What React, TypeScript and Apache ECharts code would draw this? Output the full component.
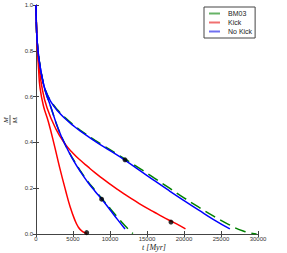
import React, { useEffect, useRef } from "react";
import * as echarts from "echarts";

// ---- data (t in Myr, M/Mi) ----
const noKickA_t = [0, 90, 270, 540, 900, 1300, 2000, 3000, 4000, 5000, 6000, 8000, 10000, 12000, 14000, 16000, 18000, 20000, 22000, 24000, 26200];
const noKickA_m = [1.0, 0.88, 0.8, 0.735, 0.672, 0.625, 0.578, 0.535, 0.502, 0.474, 0.449, 0.405, 0.364, 0.323, 0.278, 0.233, 0.189, 0.146, 0.104, 0.063, 0.022];

const noKickB_t = [0, 90, 270, 540, 900, 1300, 2000, 3000, 4050, 5000, 6000, 7000, 8000, 9000, 10000, 11000, 12030];
const noKickB_m = [1.0, 0.88, 0.8, 0.735, 0.672, 0.62, 0.555, 0.46, 0.383, 0.325, 0.272, 0.226, 0.186, 0.147, 0.106, 0.064, 0.022];

const bm03A_t = [0, 90, 270, 540, 900, 1300, 2000, 3000, 4000, 5000, 6000, 8000, 10000, 12000, 14000, 16000, 18000, 20000, 22000, 24000, 26000, 28000, 29800];
const bm03A_m = [1.0, 0.88, 0.8, 0.735, 0.672, 0.626, 0.581, 0.539, 0.506, 0.478, 0.453, 0.409, 0.368, 0.328, 0.287, 0.244, 0.201, 0.158, 0.117, 0.078, 0.042, 0.013, 0.0];

const bm03B_t = [0, 90, 270, 540, 900, 1300, 2000, 3000, 4050, 5000, 6000, 7000, 8000, 9000, 10000, 11000, 12000, 13100];
const bm03B_m = [1.0, 0.88, 0.8, 0.735, 0.672, 0.62, 0.555, 0.46, 0.384, 0.328, 0.276, 0.23, 0.19, 0.151, 0.112, 0.074, 0.037, 0.002];

const kickA_t = [0, 90, 200, 400, 810, 1500, 2700, 4000, 5000, 6000, 7000, 8000, 9000, 10000, 11000, 12000, 13000, 14000, 15000, 16000, 17000, 18000, 19000, 20200];
const kickA_m = [1.0, 0.88, 0.82, 0.74, 0.64, 0.55, 0.458, 0.39, 0.353, 0.322, 0.294, 0.267, 0.242, 0.218, 0.195, 0.173, 0.152, 0.132, 0.113, 0.095, 0.077, 0.06, 0.044, 0.022];

const kickB_t = [0, 90, 200, 350, 540, 1000, 1670, 2500, 3200, 4000, 4600, 5200, 5720, 6300, 6900];
const kickB_m = [1.0, 0.88, 0.8, 0.72, 0.64, 0.56, 0.49, 0.385, 0.29, 0.19, 0.12, 0.065, 0.03, 0.01, 0.003];

const dots_t = [6850, 8870, 12030, 18240];
const dots_m = [0.006, 0.152, 0.324, 0.052];

const legendNames = ["BM03", "Kick", "No Kick"];
const legendColors = ["#66b366", "#f07070", "#7070f0"];
const xTitle = "t [Myr]";

const pairs = (t: number[], m: number[]) => t.map((x, i) => [x, m[i]]);

const GREEN = "#008000";
const RED = "#ff0000";
const BLUE = "#0000ff";
const TICK_FONT = "Liberation Sans";

export default function App() {
  const ref = useRef<HTMLDivElement>(null);
  useEffect(() => {
    if (!ref.current) return;
    const chart = echarts.init(ref.current, null, { renderer: "svg" });
    const lineBase = (name: string, color: string, data: number[][], dashed = false) => ({
      type: "line",
      name,
      data,
      showSymbol: false,
      symbol: "none",
      smooth: 0.5,
      clip: true,
      lineStyle: { color, width: 1.5, type: dashed ? [11, 6] : "solid" },
      itemStyle: { color },
      z: 2,
    });
    const axisCommon = {
      axisLine: { show: true, lineStyle: { color: "#444", width: 1 } },
      axisTick: { show: true, inside: true, length: 3, lineStyle: { color: "#444" } },
      splitLine: { show: false },
    };
    chart.setOption({
      animation: false,
      backgroundColor: "#fff",
      grid: { left: 36, right: 29, top: 5, bottom: 19, containLabel: false, outerBoundsMode: "none" },
      legend: {
        data: legendNames.map((n, i) => ({ name: n, itemStyle: { color: legendColors[i] } })),
        orient: "vertical",
        left: 204,
        top: 7,
        width: 50,
        icon: "rect",
        itemWidth: 11,
        itemHeight: 2,
        itemGap: 2,
        padding: [3, 3, 3, 5],
        borderColor: "#444",
        borderWidth: 1,
        backgroundColor: "#fff",
        textStyle: { fontSize: 7, color: "#222", fontFamily: TICK_FONT, padding: [0, 0, 0, 3] },
        selectedMode: false,
      },
      xAxis: [
        {
          type: "value",
          min: 0,
          max: 30000,
          interval: 5000,
          position: "bottom",
          ...axisCommon,
          axisLabel: { fontSize: 6, color: "#333", margin: 2, fontFamily: TICK_FONT, formatter: (v: number) => String(v) },
        },
        {
          type: "value",
          min: 0,
          max: 30000,
          interval: 5000,
          position: "top",
          ...axisCommon,
          axisLabel: { show: false },
        },
      ],
      yAxis: [
        {
          type: "value",
          min: 0,
          max: 1,
          interval: 0.2,
          position: "left",
          ...axisCommon,
          axisLabel: {
            fontSize: 6,
            color: "#333",
            margin: 3,
            fontFamily: TICK_FONT,
            formatter: (v: number) => v.toFixed(1),
          },
        },
        {
          type: "value",
          min: 0,
          max: 1,
          interval: 0.2,
          position: "right",
          ...axisCommon,
          axisLabel: { show: false },
        },
      ],
      graphic: [
        {
          type: "text",
          x: 154,
          y: 247,
          style: {
            text: xTitle,
            font: "italic 8px 'Liberation Serif'",
            fill: "#222",
            align: "center",
            verticalAlign: "middle",
          },
        },
        {
          type: "group",
          x: 10,
          y: 120,
          rotation: Math.PI / 2,
          children: [
            {
              type: "text",
              x: 0,
              y: -1,
              style: { text: "M", font: "italic 7px 'Liberation Serif'", fill: "#222", align: "center", verticalAlign: "bottom" },
            },
            { type: "line", shape: { x1: -5, y1: 0, x2: 5, y2: 0 }, style: { stroke: "#222", lineWidth: 0.7 } },
            {
              type: "text",
              x: 0,
              y: 1,
              style: { text: "Mᵢ", font: "italic 7px 'Liberation Serif'", fill: "#222", align: "center", verticalAlign: "top" },
            },
          ],
        },
      ],
      series: [
        lineBase("BM03", GREEN, pairs(bm03A_t, bm03A_m), true),
        lineBase("BM03", GREEN, pairs(bm03B_t, bm03B_m), true),
        lineBase("Kick", RED, pairs(kickA_t, kickA_m)),
        lineBase("Kick", RED, pairs(kickB_t, kickB_m)),
        lineBase("No Kick", BLUE, pairs(noKickA_t, noKickA_m)),
        lineBase("No Kick", BLUE, pairs(noKickB_t, noKickB_m)),
        {
          type: "scatter",
          name: "dots",
          data: pairs(dots_t, dots_m),
          symbolSize: 5,
          itemStyle: { color: "#000" },
          z: 5,
        },
      ],
    });
    return () => chart.dispose();
  }, []);
  return <div ref={ref} style={{ width: 287, height: 253, position: "absolute", left: 0, top: 0 }} />;
}
